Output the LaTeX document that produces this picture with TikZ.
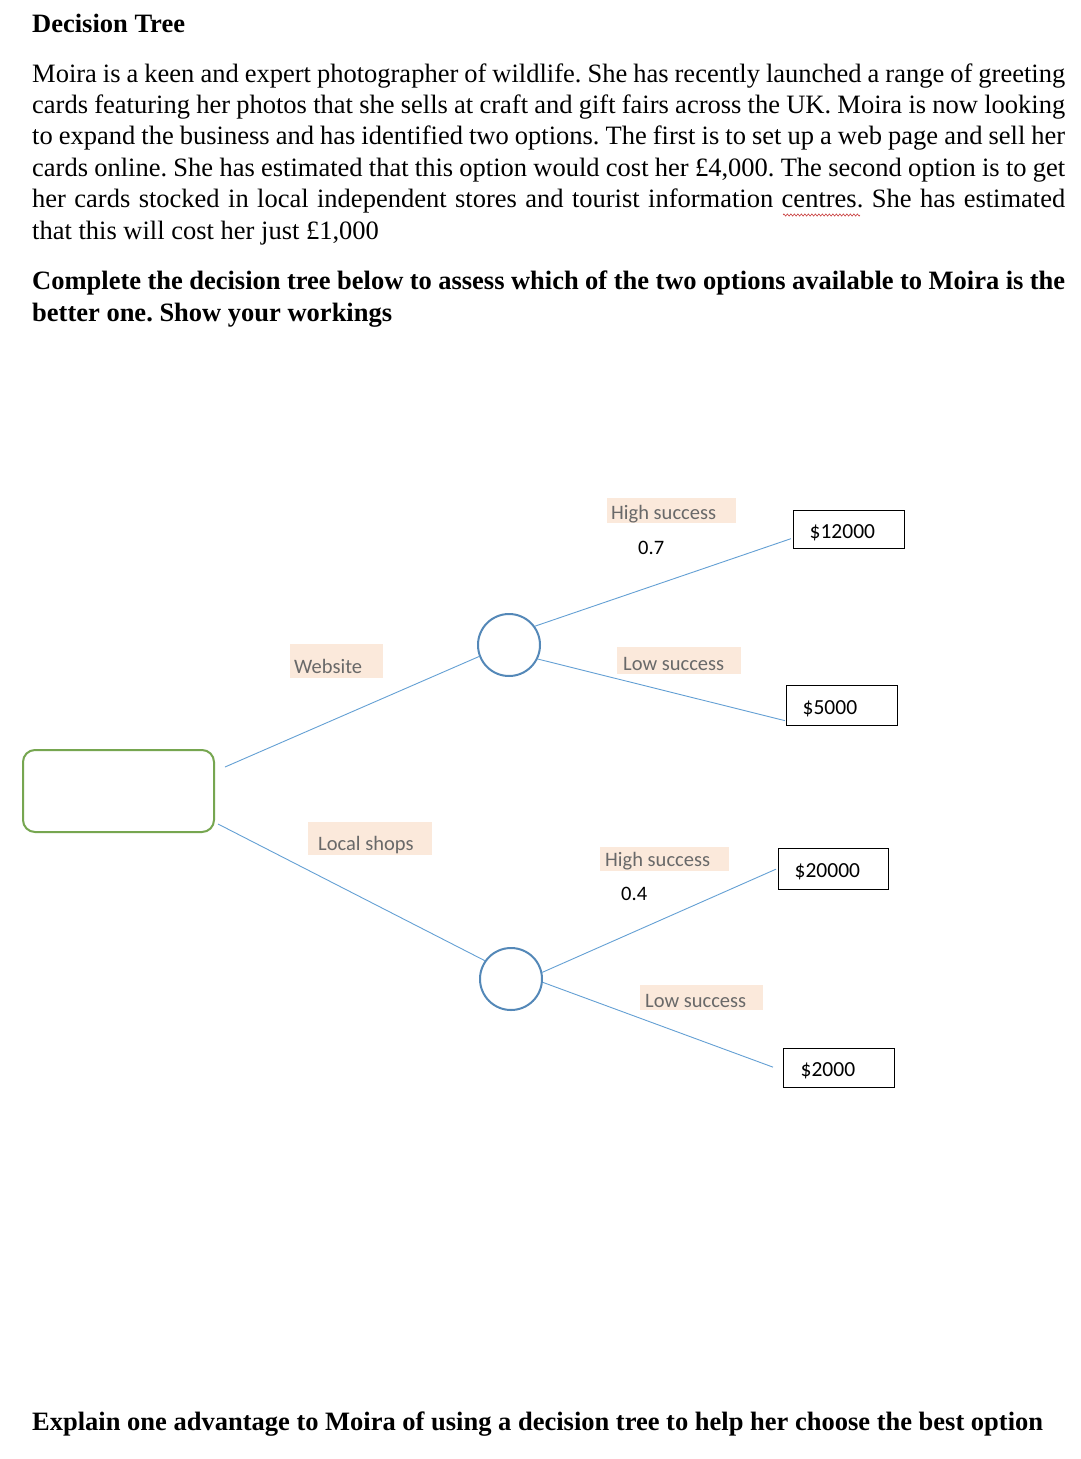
\documentclass[tikz,border=0pt]{standalone}
\usepackage{fontspec}
\setmainfont{Liberation Serif}
\newfontfamily\calfont{Carlito}
\usetikzlibrary{decorations.pathmorphing}
\definecolor{peach}{RGB}{251,233,219}
\definecolor{lblgray}{RGB}{105,105,105}
\definecolor{connblue}{RGB}{100,160,212}
\definecolor{ringblue}{RGB}{84,136,184}
\definecolor{decgreen}{RGB}{118,166,80}
\definecolor{spellred}{RGB}{200,60,60}
\frenchspacing
\begin{document}
\begin{tikzpicture}[x=1pt,y=-1pt,
  body/.style={anchor=base west, inner sep=0, font=\fontsize{26.5}{31.4}\selectfont},
  bodyb/.style={anchor=base west, inner sep=0, font=\bfseries\fontsize{26.5}{31.4}\selectfont},
  lbl/.style={anchor=base west, inner sep=0, fill=peach, text=lblgray, font=\calfont\fontsize{20.5}{24}\selectfont},
  prob/.style={anchor=base west, inner sep=0, text=black, font=\calfont\fontsize{20.5}{24}\selectfont},
  leaf/.style={anchor=north west, draw=black, line width=1.3pt, inner sep=0, text height=19pt, text depth=1.5pt, font=\calfont\fontsize{21.5}{25}\selectfont},
  chance/.style={circle, draw=ringblue, line width=2pt, minimum size=62pt, inner sep=0},
  decbox/.style={rectangle, rounded corners=12pt, draw=decgreen, line width=2pt, minimum width=191pt, minimum height=82pt, inner sep=0},
  conn/.style={draw=connblue, line width=0.9pt}
]
\useasboundingbox (0,0) rectangle (1080,1459);
\fill[white] (0,0) rectangle (1080,1459);

% ---- text ----
\node[bodyb] (title) at (32,32) {Decision Tree};
\node[body] (p1) at (32,82) {\makebox[1033pt][s]{Moira is a keen and expert photographer of wildlife. She has recently launched a range of greeting}};
\node[body] (p2) at (32,113.4) {\makebox[1033pt][s]{cards featuring her photos that she sells at craft and gift fairs across the UK. Moira is now looking}};
\node[body] (p3) at (32,144.8) {\makebox[1033pt][s]{to expand the business and has identified two options. The first is to set up a web page and sell her}};
\node[body] (p4) at (32,176.2) {\makebox[1033pt][s]{cards online. She has estimated that this option would cost her £4,000. The second option is to get}};
\node[body] (p5) at (32,207.6) {\makebox[1033pt][s]{her cards stocked in local independent stores and tourist information centres. She has estimated}};
\node[body] (p6) at (32,239) {that this will cost her just £1,000};
\draw[spellred, line width=0.6pt, decorate, decoration={zigzag, segment length=3.5pt, amplitude=1.1pt}] (783,215) -- (860,215);

\node[bodyb] (q1) at (32,289) {\makebox[1033pt][s]{Complete the decision tree below to assess which of the two options available to Moira is the}};
\node[bodyb] (q2) at (32,321) {better one. Show your workings};
\node[bodyb] (q3) at (32,1430) {Explain one advantage to Moira of using a decision tree to help her choose the best option};

% ---- tree nodes ----
\node[decbox] (dec) at (118.5,791) {};
\node[chance] (c1) at (509,645) {};
\node[chance] (c2) at (511,979) {};

\node[leaf, minimum height=38pt] (l1) at (793,510) {\makebox[111pt][l]{\hspace{16pt}\$12000}};
\node[leaf, minimum height=40pt] (l2) at (786,685) {\makebox[111pt][l]{\hspace{16pt}\$5000}};
\node[leaf, minimum height=41pt] (l3) at (778,848) {\makebox[110pt][l]{\hspace{16pt}\$20000}};
\node[leaf, minimum height=39pt] (l4) at (783,1048) {\makebox[111pt][l]{\hspace{17pt}\$2000}};

% ---- connectors ----
\draw[conn] ([shift={(10,18)}]dec.north east) -- (c1.201);
\draw[conn] ([shift={(3,-9)}]dec.south east) -- (c2.145);
\draw[conn] (c1.36) -- ([shift={(-2,9)}]l1.west);
\draw[conn] (c1.334) -- ([shift={(-1,15)}]l2.west);
\draw[conn] (c2.12) -- ([shift={(-2,0)}]l3.west);
\draw[conn] (c2.-6) -- ([shift={(-10,-1)}]l4.west);

% ---- branch labels ----
\node[lbl, text height=21pt, text depth=4pt] (hs1) at (607,519) {\makebox[129pt][l]{\hspace{4pt}High success}};
\node[prob] (p07) at (638,554) {0.7};
\node[lbl, text height=29pt, text depth=5pt] (web) at (290,673) {\makebox[93pt][l]{\hspace{4pt}Website}};
\node[lbl, text height=23pt, text depth=4pt] (ls1) at (617,670) {\makebox[124pt][l]{\hspace{6pt}Low success}};
\node[lbl, text height=28pt, text depth=5pt] (shops) at (308,850) {\makebox[124pt][l]{\hspace{10pt}Local shops}};
\node[lbl, text height=19pt, text depth=5pt] (hs2) at (600,866) {\makebox[129pt][l]{\hspace{5pt}High success}};
\node[prob] (p04) at (621,900) {0.4};
\node[lbl, text height=22pt, text depth=3pt] (ls2) at (640,1007) {\makebox[123pt][l]{\hspace{5pt}Low success}};
\end{tikzpicture}
\end{document}
